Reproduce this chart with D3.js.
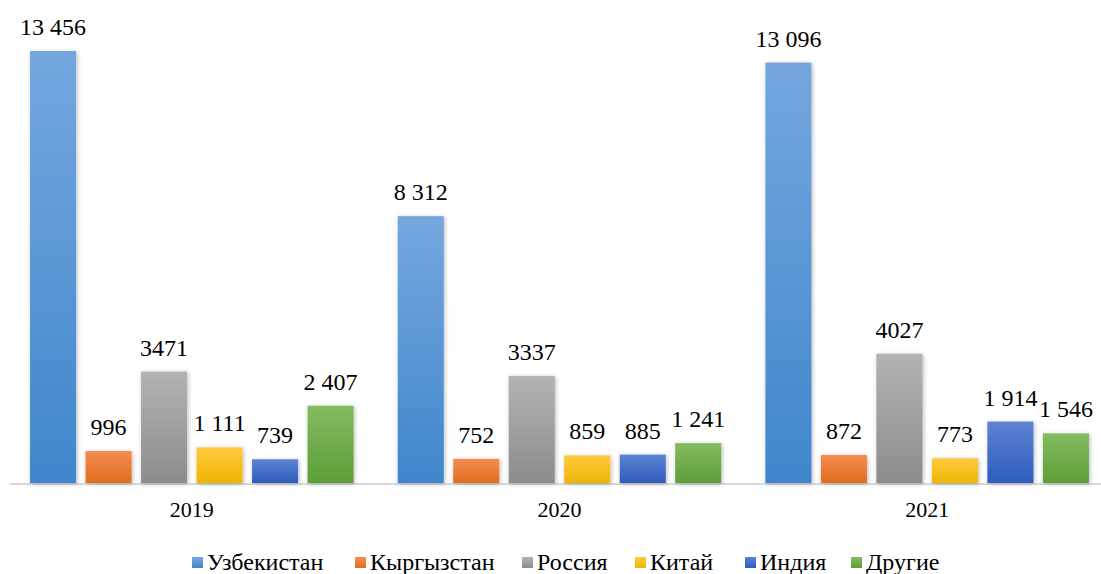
<!DOCTYPE html>
<html>
<head>
    <meta charset="UTF-8" />
    <script src="https://d3js.org/d3.v7.min.js"></script>
    <style>
        body { margin: 0; overflow: hidden; background: white; }
    </style>
</head>
<body>
<script>
    // data
    const years = ["2019", "2020", "2021"];
    const countries = ["Узбекистан", "Кыргызстан", "Россия", "Китай", "Индия", "Другие"];
    const uzbekistan = [13456, 8312, 13096];
    const kyrgyzstan = [996, 752, 872];
    const russia = [3471, 3337, 4027];
    const china = [1111, 859, 773];
    const india = [739, 885, 1914];
    const others = [2407, 1241, 1546];
    // labels as printed (some without thousands space)
    const labelText = [
        ["13 456", "996", "3471", "1 111", "739", "2 407"],
        ["8 312", "752", "3337", "859", "885", "1 241"],
        ["13 096", "872", "4027", "773", "1 914", "1 546"]
    ];

    const series = [uzbekistan, kyrgyzstan, russia, china, india, others];
    const colors = [
        ["#75a7de", "#3f86cc"],
        ["#f38d51", "#e26c1c"],
        ["#b3b3b3", "#8c8c8c"],
        ["#ffca40", "#efb500"],
        ["#5e83d3", "#2d5cbd"],
        ["#85bb62", "#5c9f37"]
    ];
    const serif = "Liberation Serif";

    const width = 1101, height = 574;
    const baseY = 483;

    const svg = d3.select("body").append("svg")
        .attr("width", width)
        .attr("height", height)
        .attr("font-family", serif);

    const defs = svg.append("defs");
    colors.forEach((c, i) => {
        const g = defs.append("linearGradient")
            .attr("id", "grad" + i)
            .attr("x1", 0).attr("y1", 0).attr("x2", 0).attr("y2", 1);
        g.append("stop").attr("offset", "0%").attr("stop-color", c[0]);
        g.append("stop").attr("offset", "100%").attr("stop-color", c[1]);
    });
    const shadow = defs.append("filter").attr("id", "shadow")
        .attr("x", "-20%").attr("y", "-10%").attr("width", "150%").attr("height", "130%");
    shadow.append("feDropShadow")
        .attr("dx", 1).attr("dy", 1).attr("stdDeviation", 2)
        .attr("flood-color", "#000").attr("flood-opacity", 0.28);

    const x0 = d3.scaleBand()
        .domain(years)
        .range([8, 1111])
        .paddingInner(0.12)
        .paddingOuter(0.06);

    const x1 = d3.scaleBand()
        .domain(countries)
        .range([0, x0.bandwidth()])
        .paddingInner(0.17)
        .paddingOuter(0);

    const y = d3.scaleLinear()
        .domain([0, 13456])
        .range([baseY, 51]);

    const rows = [];
    years.forEach((yr, yi) => {
        countries.forEach((c, ci) => {
            rows.push({ year: yr, country: c, ci: ci, value: series[ci][yi], label: labelText[yi][ci] });
        });
    });

    // axis line
    svg.append("line")
        .attr("x1", 10).attr("x2", width)
        .attr("y1", baseY + 1).attr("y2", baseY + 1)
        .attr("stroke", "#d9d9d9")
        .attr("stroke-width", 2);

    svg.append("g")
        .selectAll("rect")
        .data(rows)
        .join("rect")
        .attr("x", d => x0(d.year) + x1(d.country))
        .attr("y", d => y(d.value))
        .attr("width", x1.bandwidth())
        .attr("height", d => baseY - y(d.value))
        .attr("fill", d => "url(#grad" + d.ci + ")")
        .attr("filter", "url(#shadow)");

    svg.append("g")
        .selectAll("text")
        .data(rows)
        .join("text")
        .attr("x", d => x0(d.year) + x1(d.country) + x1.bandwidth() / 2)
        .attr("y", d => y(d.value) - 16)
        .attr("text-anchor", "middle")
        .attr("font-family", serif)
        .attr("font-size", 24)
        .attr("fill", "#000")
        .text(d => d.label);

    // category axis labels
    const xAxis = svg.append("g")
        .attr("transform", `translate(0,${baseY})`)
        .call(d3.axisBottom(x0).tickSize(0).tickPadding(18))
        .attr("font-family", serif)
        .attr("font-size", 22);
    xAxis.select(".domain").remove();
    xAxis.selectAll("text").attr("fill", "#000");

    // legend
    const legendX = [207, 370, 537, 650, 760, 866];
    const legend = svg.append("g")
        .selectAll("g")
        .data(countries)
        .join("g")
        .attr("transform", (d, i) => `translate(${legendX[i]},0)`);
    legend.append("rect")
        .attr("x", -15).attr("y", 557)
        .attr("width", 11).attr("height", 11)
        .attr("fill", (d, i) => "url(#grad" + i + ")");
    legend.append("text")
        .attr("x", 0)
        .attr("y", 570)
        .attr("font-family", serif)
        .attr("font-size", 24)
        .attr("fill", "#000")
        .text(d => d);
</script>
</body>
</html>
